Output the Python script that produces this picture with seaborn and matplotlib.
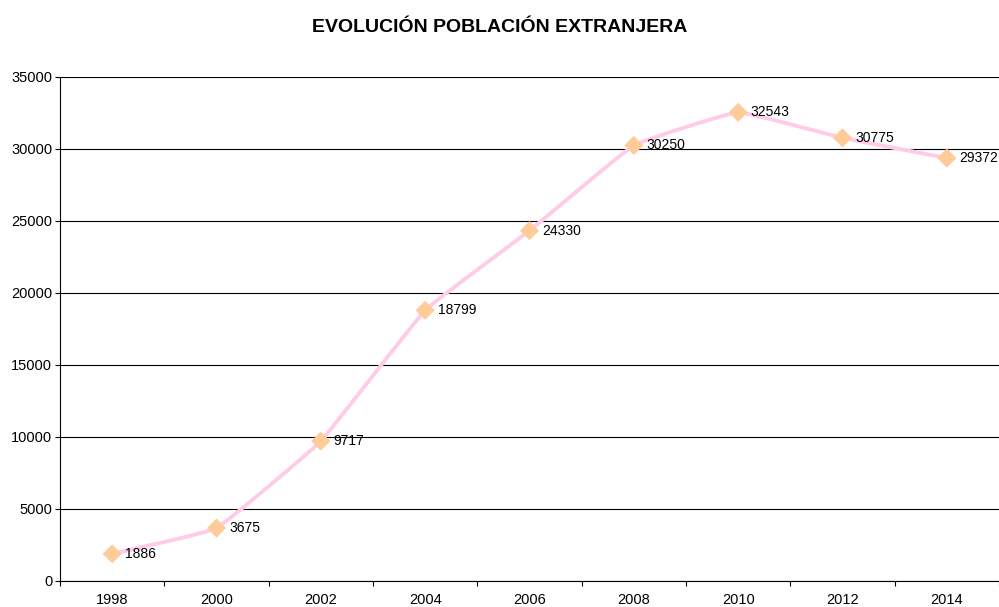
import numpy as np
import pandas as pd
import matplotlib
matplotlib.use("Agg")
import matplotlib.pyplot as plt
import seaborn as sns
from matplotlib.path import Path
from matplotlib.patches import PathPatch

years = ["1998", "2000", "2002", "2004", "2006", "2008", "2010", "2012", "2014"]
poblacion = [1886, 3675, 9717, 18799, 24330, 30250, 32543, 30775, 29372]
titulo = "EVOLUCIÓN POBLACIÓN EXTRANJERA"

sns.set_theme(style="white")
plt.rcParams["font.family"] = ["Liberation Sans", "DejaVu Sans"]
plt.rcParams["text.color"] = "black"
plt.rcParams["xtick.color"] = "black"
plt.rcParams["ytick.color"] = "black"

df = pd.DataFrame({"pos": np.arange(len(years)), "valor": poblacion})

fig = plt.figure(figsize=(9.99, 6.07), dpi=100)
ax = fig.add_axes([60 / 999, 26 / 607, 939 / 999, 504 / 607])

# linea ligeramente suavizada (Bezier, poca tension)
pts = df[["pos", "valor"]].to_numpy(dtype=float)
ext = np.vstack([pts[0], pts, pts[-1]])
k = 22
verts = [tuple(pts[0])]
codes = [Path.MOVETO]
for i in range(1, len(ext) - 2):
    p0, p1, p2, p3 = ext[i - 1], ext[i], ext[i + 1], ext[i + 2]
    c1 = p1 + (p2 - p0) / k
    c2 = p2 - (p3 - p1) / k
    verts += [tuple(c1), tuple(c2), tuple(p2)]
    codes += [Path.CURVE4] * 3
ax.add_patch(PathPatch(Path(verts, codes), facecolor="none",
                       edgecolor="#FFCCE8", lw=2.8, zorder=2))

sns.scatterplot(data=df, x="pos", y="valor", marker="D", s=95, color="#FFCC99",
                edgecolor="none", ax=ax, zorder=3, legend=False)

for x, y in zip(df["pos"], df["valor"]):
    ax.annotate(str(y), (x, y), xytext=(9, 0), textcoords="offset points",
                va="center", ha="left", fontsize=10, color="black")

ax.set_xlim(-0.5, len(years) - 0.5)
ax.set_ylim(0, 35000)
ax.set_yticks(range(0, 35001, 5000))
ax.set_xticks(df["pos"])
ax.set_xticklabels(years)
ax.set_xticks(np.arange(-0.5, len(years), 1), minor=True)
ax.tick_params(axis="x", which="major", length=0, pad=9, labelsize=10.5)
ax.tick_params(axis="x", which="minor", length=3.6, width=0.8, color="black", direction="out", bottom=True)
ax.tick_params(axis="y", length=3.6, width=0.8, color="black", direction="out", left=True, labelsize=10.5, pad=2)
ax.yaxis.grid(True, color="black", lw=0.8)
ax.set_axisbelow(True)
ax.set_xlabel("")
ax.set_ylabel("")
for s in ["top", "right"]:
    ax.spines[s].set_visible(False)
for s in ["left", "bottom"]:
    ax.spines[s].set_color("black")
    ax.spines[s].set_linewidth(0.8)

fig.text(0.5, 1 - 27 / 607, titulo, ha="center", va="center",
         fontsize=14, fontweight="bold")

fig.savefig("out.png", dpi=100)
